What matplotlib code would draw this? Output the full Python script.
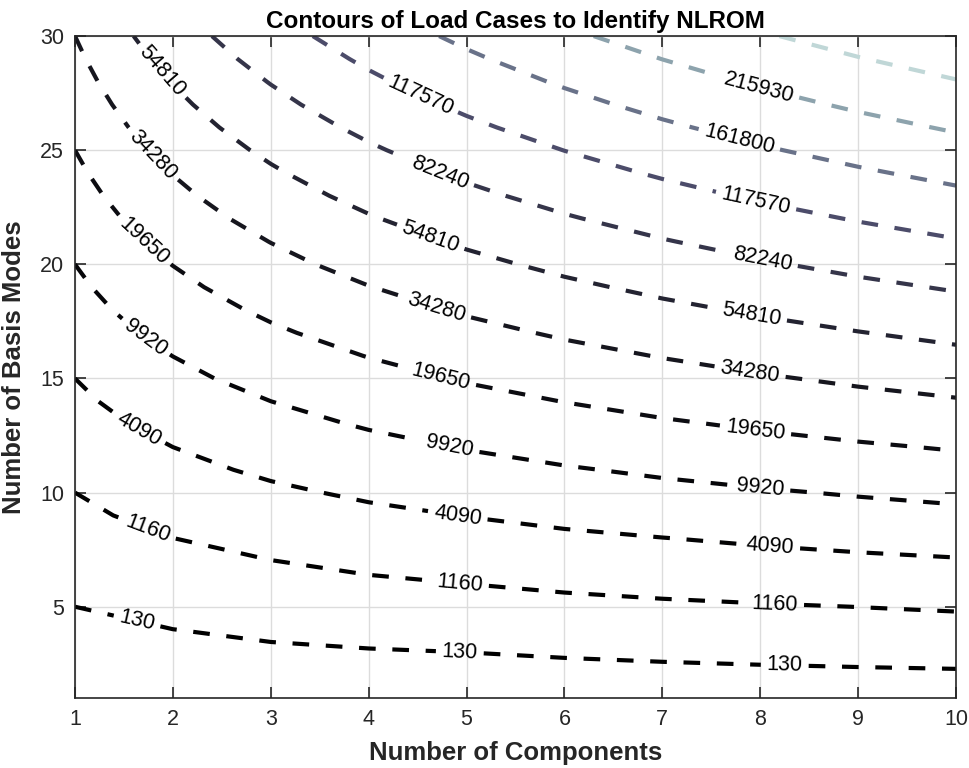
import numpy as np
import matplotlib
matplotlib.use('Agg')
import matplotlib.pyplot as plt

# --- DATA ---
n_components = np.arange(1, 11)        # x axis
n_modes = np.arange(1, 31)             # y axis
levels = [130, 1160, 4090, 9920, 19650, 34280, 54810, 82240,
          117570, 161800, 215930, 280960]
x_ticks = list(range(1, 11))
y_ticks = [5, 10, 15, 20, 25, 30]


def load_cases(n):
    """Load cases needed for one component with n basis modes"""
    return 2 * n + 2 * n * (n - 1) + 4.0 / 3.0 * n * (n - 1) * (n - 2)


X, Y = np.meshgrid(n_components, n_modes)
Z = X * load_cases(Y)

# label spots (data coords)
label_spots = [
    (1.63, 4.3), (4.93, 2.9), (8.25, 2.37),
    (1.66, 7.4), (4.93, 5.96), (8.15, 5.1),
    (1.64, 12.7), (4.91, 9.0), (8.1, 7.6),
    (1.72, 16.8), (4.83, 12.0), (8.0, 10.1),
    (1.72, 21.1), (4.73, 14.9), (7.95, 12.7),
    (1.79, 24.8), (4.70, 18.2), (7.9, 15.4),
    (1.87, 28.4), (4.65, 21.4), (7.92, 18.0),
    (4.73, 24.0), (8.03, 20.4),
    (4.52, 27.3), (7.99, 23.4),
    (7.8, 25.7),
    (7.99, 27.85),
]

plt.rcParams['font.family'] = ['Liberation Sans', 'DejaVu Sans']
ink = '#262626'

fig = plt.figure(figsize=(9.69, 7.68), dpi=100)
ax = fig.add_axes([0.0774, 0.0911, 0.9092, 0.8619])

cs = ax.contour(X, Y, Z, levels=levels, cmap='bone', vmin=Z.min(), vmax=Z.max(),
                linewidths=3.0, linestyles=[(0, (4, 4))])
ax.clabel(cs, levels=levels[:-1], inline=True, fmt='%d', fontsize=15.5,
          colors='black', manual=label_spots, inline_spacing=6)

ax.set_xlim(1, 10)
ax.set_ylim(1, 30)
ax.set_xticks(x_ticks)
ax.set_yticks(y_ticks)
ax.grid(True, color='#dcdcdc', linewidth=1.0)
ax.set_axisbelow(True)
ax.tick_params(direction='in', length=8, width=1.2, colors=ink, labelsize=15.5,
               top=True, right=True, pad=8)
for s in ax.spines.values():
    s.set_color(ink)
    s.set_linewidth(1.2)

ax.set_xlabel('Number of Components', fontsize=18.5, fontweight='bold',
              color=ink, labelpad=8)
ax.set_ylabel('Number of Basis Modes', fontsize=18.5, fontweight='bold',
              color=ink, labelpad=10)
ax.set_title('Contours of Load Cases to Identify NLROM', fontsize=17.5,
             fontweight='bold', color='black', pad=6)

fig.savefig('out.png', dpi=100)
